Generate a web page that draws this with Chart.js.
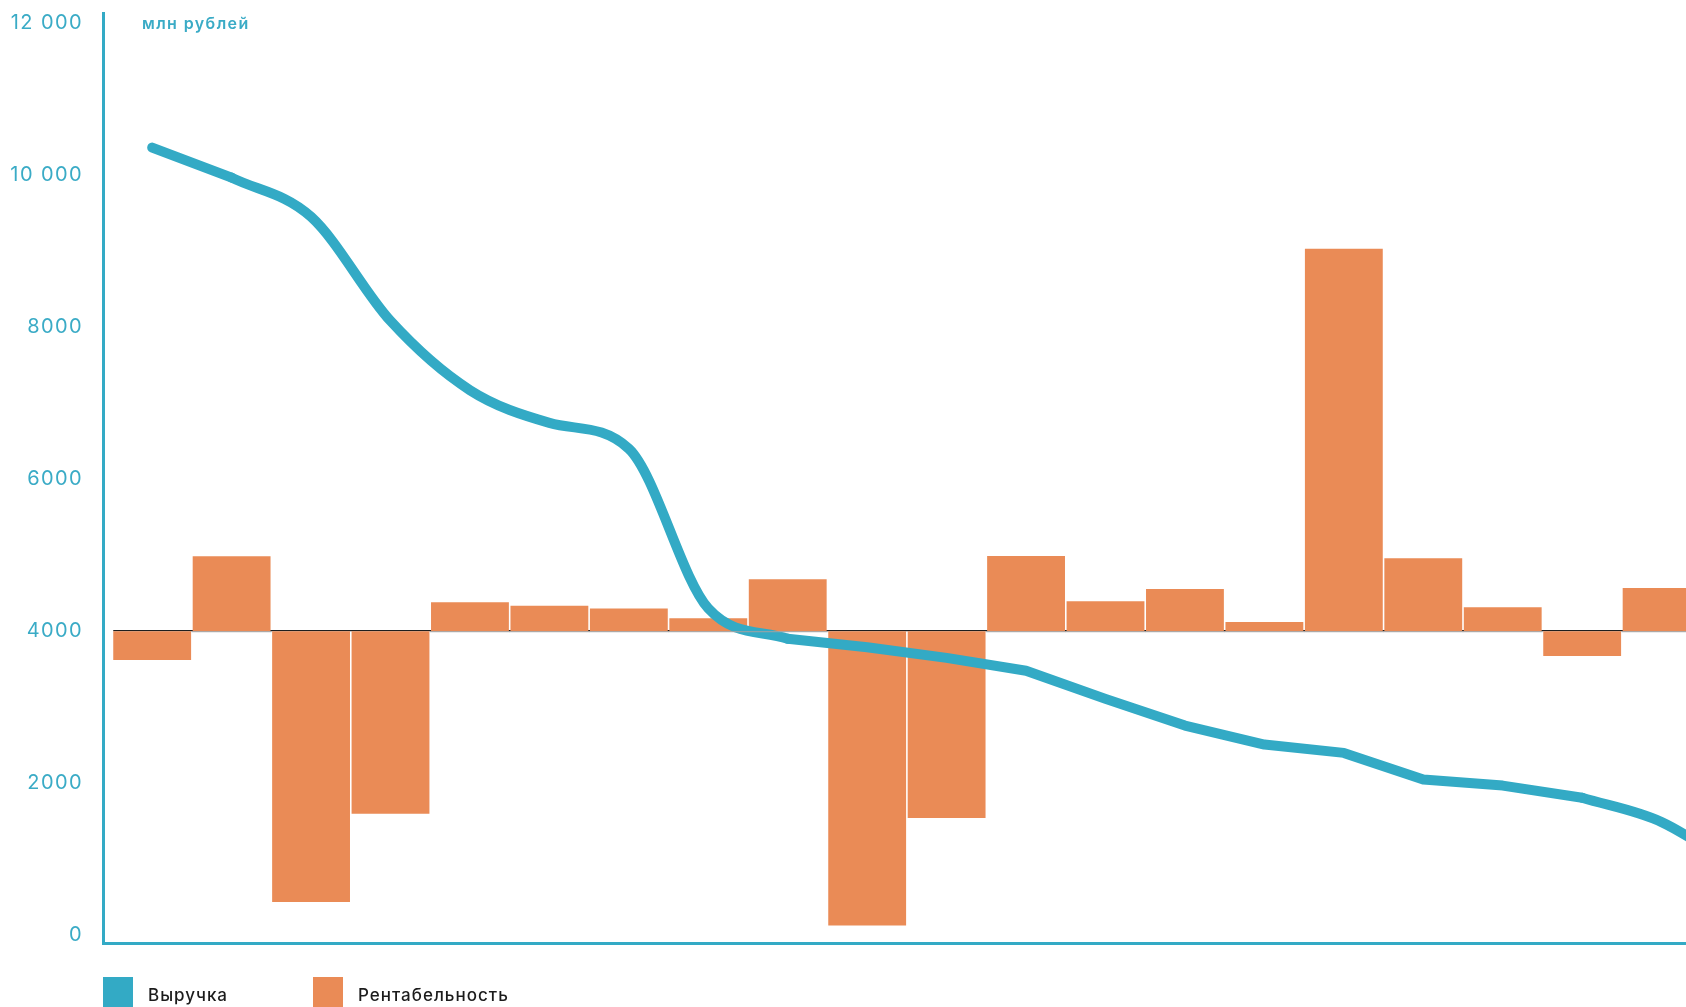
<!DOCTYPE html>
<html lang="ru">
<head>
<meta charset="utf-8">
<title>Выручка и рентабельность</title>
<script src="https://cdn.jsdelivr.net/npm/chart.js@4.4.1/dist/chart.umd.min.js"></script>
<style>
  html, body { margin: 0; padding: 0; background: #ffffff; overflow: hidden; }
  #wrap { position: relative; width: 1686px; height: 1007px; overflow: hidden; }
  #chart { position: absolute; left: 0; top: 0; }
  .legend-item { position: absolute; top: 977px; height: 30px; }
  .legend-item .sw { position: absolute; left: 0; top: 0; width: 30px; height: 30px; }
  .legend-item .tx {
    position: absolute; left: 45px; top: 9px; white-space: nowrap;
    font-family: Inter, "Noto Sans", sans-serif; font-size: 17px; font-weight: 500;
    letter-spacing: 1px; color: #1c1c1c; line-height: 18px;
  }
</style>
</head>
<body>
<div id="wrap">
  <canvas id="chart" width="1686" height="1007"></canvas>
  <div class="legend-item" style="left:103px"><div class="sw" style="background:#33aac5"></div><div class="tx">Выручка</div></div>
  <div class="legend-item" style="left:313px"><div class="sw" style="background:#ea8b56"></div><div class="tx">Рентабельность</div></div>
</div>
<script>
// Value axis ticks and their printed labels
const yTickValues = [0, 2000, 4000, 6000, 8000, 10000, 12000];
const yTickLabels = ['0', '2000', '4000', '6000', '8000', '10 000', '12 000'];

// Company positions along the horizontal axis (the last one runs past the right edge)
const categories = ['1', '2', '3', '4', '5', '6', '7', '8', '9', '10', '11',
                    '12', '13', '14', '15', '16', '17', '18', '19', '20', '21'];

// Выручка, млн рублей
const revenue = [10360, 9965, 9450, 8080, 7170, 6740, 6400, 4300, 3900, 3790, 3650,
                 3480, 3110, 2760, 2510, 2400, 2050, 1970, 1810, 1490, 850];

// Рентабельность, drawn as bars hanging from the reference level
const profitability = [3620, 4985, 440, 1600, 4380, 4335, 4300, 4170, 4685, 130,
                       1545, 4990, 4395, 4555, 4120, 9030, 4960, 4315, 3675, 4570];
const barBase = 4000;

// Revenue curve pieces: [first index, last index, smoothed?]
const revenuePieces = [[0, 1, false], [1, 8, true], [8, 18, false], [18, 20, true]];

const TEAL = '#33aac5';
const TEAL_TEXT = '#3aabc6';
const ORANGE = '#ea8b56';

// Thin reference line at the bar base: dark above the negative bars, grey under the positive ones
const baseLinePlugin = {
  id: 'baseLine',
  beforeDatasetsDraw(chart) {
    const { ctx, chartArea, scales } = chart;
    const meta = chart.getDatasetMeta(chart.data.datasets.length - 1);
    const y = scales.y.getPixelForValue(barBase);
    const first = meta.data[0];
    ctx.save();
    ctx.beginPath();
    ctx.rect(chartArea.left, chartArea.top, chartArea.width, chartArea.height);
    ctx.clip();
    ctx.strokeStyle = '#1e1e1e';
    ctx.lineWidth = 1.3;
    ctx.beginPath();
    ctx.moveTo(first.x - first.width / 2, y - 0.65);
    ctx.lineTo(chartArea.right, y - 0.65);
    ctx.stroke();
    ctx.restore();
  },
  afterDatasetsDraw(chart) {
    const { ctx, chartArea, scales } = chart;
    const meta = chart.getDatasetMeta(chart.data.datasets.length - 1);
    const y = scales.y.getPixelForValue(barBase);
    ctx.save();
    ctx.beginPath();
    ctx.rect(chartArea.left, chartArea.top, chartArea.width, chartArea.height);
    ctx.clip();
    ctx.strokeStyle = '#a3a3a3';
    ctx.lineWidth = 1;
    meta.data.forEach((bar, i) => {
      if (profitability[i] > barBase) {
        ctx.beginPath();
        ctx.moveTo(bar.x - bar.width / 2 - 1, y + 0.5);
        ctx.lineTo(bar.x + bar.width / 2 + 1, y + 0.5);
        ctx.stroke();
      }
    });
    ctx.restore();
  }
};

// Unit caption at the top of the value axis
const unitPlugin = {
  id: 'unitCaption',
  afterDraw(chart) {
    const { ctx } = chart;
    ctx.save();
    ctx.font = '600 16px Inter, "Noto Sans", sans-serif';
    ctx.fillStyle = TEAL_TEXT;
    ctx.letterSpacing = '1.4px';
    ctx.textBaseline = 'middle';
    ctx.textAlign = 'left';
    ctx.fillText('млн рублей', 142, 24);
    ctx.restore();
  }
};

// Slightly spaced digits for the axis labels
const spacingPlugin = {
  id: 'tickSpacing',
  beforeDraw(chart) { chart.ctx.letterSpacing = '1.4px'; },
  afterDraw(chart) { chart.ctx.letterSpacing = '0px'; }
};

const lineSets = revenuePieces.map(([from, to, smooth]) => ({
  type: 'line',
  label: 'Выручка',
  data: categories.slice(from, to + 1).map((c, k) => ({ x: from + k, y: revenue[from + k] })),
  borderColor: TEAL,
  backgroundColor: TEAL,
  borderWidth: 10,
  pointRadius: 0,
  pointHoverRadius: 0,
  tension: 0,
  cubicInterpolationMode: smooth ? 'monotone' : 'default',
  borderCapStyle: 'round',
  borderJoinStyle: 'round',
  fill: false
}));

new Chart(document.getElementById('chart'), {
  data: {
    datasets: [
      ...lineSets,
      {
        type: 'bar',
        label: 'Рентабельность',
        data: profitability.map((v, i) => ({ x: i, y: [barBase, v] })),
        backgroundColor: ORANGE,
        borderWidth: 0,
        barPercentage: 0.98,
        categoryPercentage: 1
      }
    ]
  },
  options: {
    responsive: false,
    animation: false,
    layout: { padding: { top: 13, left: 0, right: 0, bottom: 0 } },
    plugins: { legend: { display: false }, tooltip: { enabled: false } },
    scales: {
      x: {
        type: 'linear',
        offset: false,
        min: -0.619,
        max: 19.307,
        grid: { display: false, drawTicks: false, offset: false },
        ticks: { display: false, stepSize: 1 },
        border: { display: true, color: TEAL, width: 3 },
        afterFit(scale) {
          scale.height = 64;
          scale.paddingLeft = 0;
          scale.paddingRight = 0;
        }
      },
      y: {
        type: 'linear',
        min: -100,
        max: 12130,
        afterBuildTicks(scale) { scale.ticks = yTickValues.map(v => ({ value: v })); },
        grid: { display: false, drawTicks: false },
        border: { display: true, color: TEAL, width: 3 },
        ticks: {
          color: TEAL_TEXT,
          padding: 20,
          font: { family: 'Inter, "Noto Sans", sans-serif', size: 20, weight: '400' },
          callback: (value) => yTickLabels[yTickValues.indexOf(value)]
        },
        afterFit(scale) {
          scale.width = 103;
          scale.paddingTop = 0;
          scale.paddingBottom = 0;
        }
      }
    }
  },
  plugins: [spacingPlugin, baseLinePlugin, unitPlugin]
});
</script>
</body>
</html>
